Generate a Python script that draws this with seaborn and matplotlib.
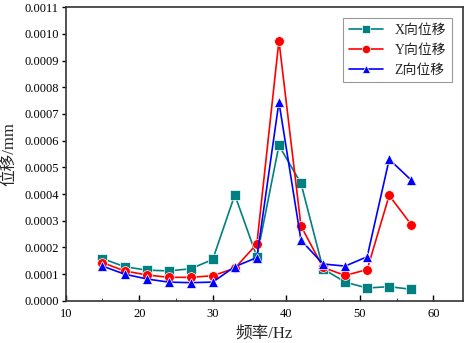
from matplotlib import pyplot as plt
from matplotlib.ticker import MultipleLocator
import pandas as pd
import seaborn as sns

freq = [15, 18, 21, 24, 27, 30, 33, 36, 39, 42, 45, 48, 51, 54, 57]
x_disp = [0.000158, 0.000128, 0.000115, 0.000112, 0.000120, 0.000155, 0.000397, 0.000165,
          0.000582, 0.000440, 0.000120, 0.000070, 0.000048, 0.000053, 0.000043]
y_disp = [0.000143, 0.000112, 0.000097, 0.000088, 0.000088, 0.000094, 0.000122, 0.000213,
          0.000975, 0.000280, 0.000125, 0.000095, 0.000117, 0.000395, 0.000285]
z_disp = [0.000130, 0.000100, 0.000082, 0.000070, 0.000068, 0.000070, 0.000128, 0.000162,
          0.000745, 0.000227, 0.000138, 0.000130, 0.000165, 0.000530, 0.000452]
labels = ['X向位移', 'Y向位移', 'Z向位移']

sns.set_style('ticks')
plt.rcParams['font.family'] = ['Liberation Serif', 'Noto Sans CJK SC']
plt.rcParams['xtick.direction'] = 'in'
plt.rcParams['ytick.direction'] = 'out'

df = pd.DataFrame({'freq': freq, labels[0]: x_disp, labels[1]: y_disp, labels[2]: z_disp})
df = df.melt(id_vars='freq', var_name='dir', value_name='disp')

fig = plt.figure(figsize=(4.66, 3.43), dpi=100)
ax = fig.add_axes([0.141, 0.123, 0.852, 0.856])
sns.lineplot(data=df, x='freq', y='disp', hue='dir', style='dir',
             palette=['#008080', '#ff0000', '#0000ff'],
             markers=['s', 'o', '^'], dashes=False, markersize=7,
             markeredgewidth=0.5, linewidth=1.2, ax=ax)

ax.set_xlim(10, 64)
ax.set_ylim(0, 0.0011)
ax.xaxis.set_major_locator(MultipleLocator(10))
ax.xaxis.set_minor_locator(MultipleLocator(5))
ax.yaxis.set_major_locator(MultipleLocator(0.0001))
ax.yaxis.set_major_formatter(plt.FuncFormatter(lambda v, p: f'{v:.4f}'))
ax.tick_params(labelsize=9, width=1, colors='black')
ax.tick_params(axis='x', length=4, pad=5)
ax.tick_params(axis='x', which='minor', length=2.5)
ax.tick_params(axis='y', length=3, pad=2)
for s in ax.spines.values():
    s.set_linewidth(1.2)
    s.set_color('#333333')
ax.set_xlabel('频率/Hz', fontsize=12, labelpad=4)
ax.set_ylabel('位移/mm', fontsize=12, labelpad=5)

leg = ax.legend(loc='upper right', fontsize=10, fancybox=False, edgecolor='gray',
                borderaxespad=0.8, handlelength=2.5, title=None, markerscale=0.85)
leg.get_frame().set_linewidth(0.8)

plt.savefig('out.png', dpi=100)
